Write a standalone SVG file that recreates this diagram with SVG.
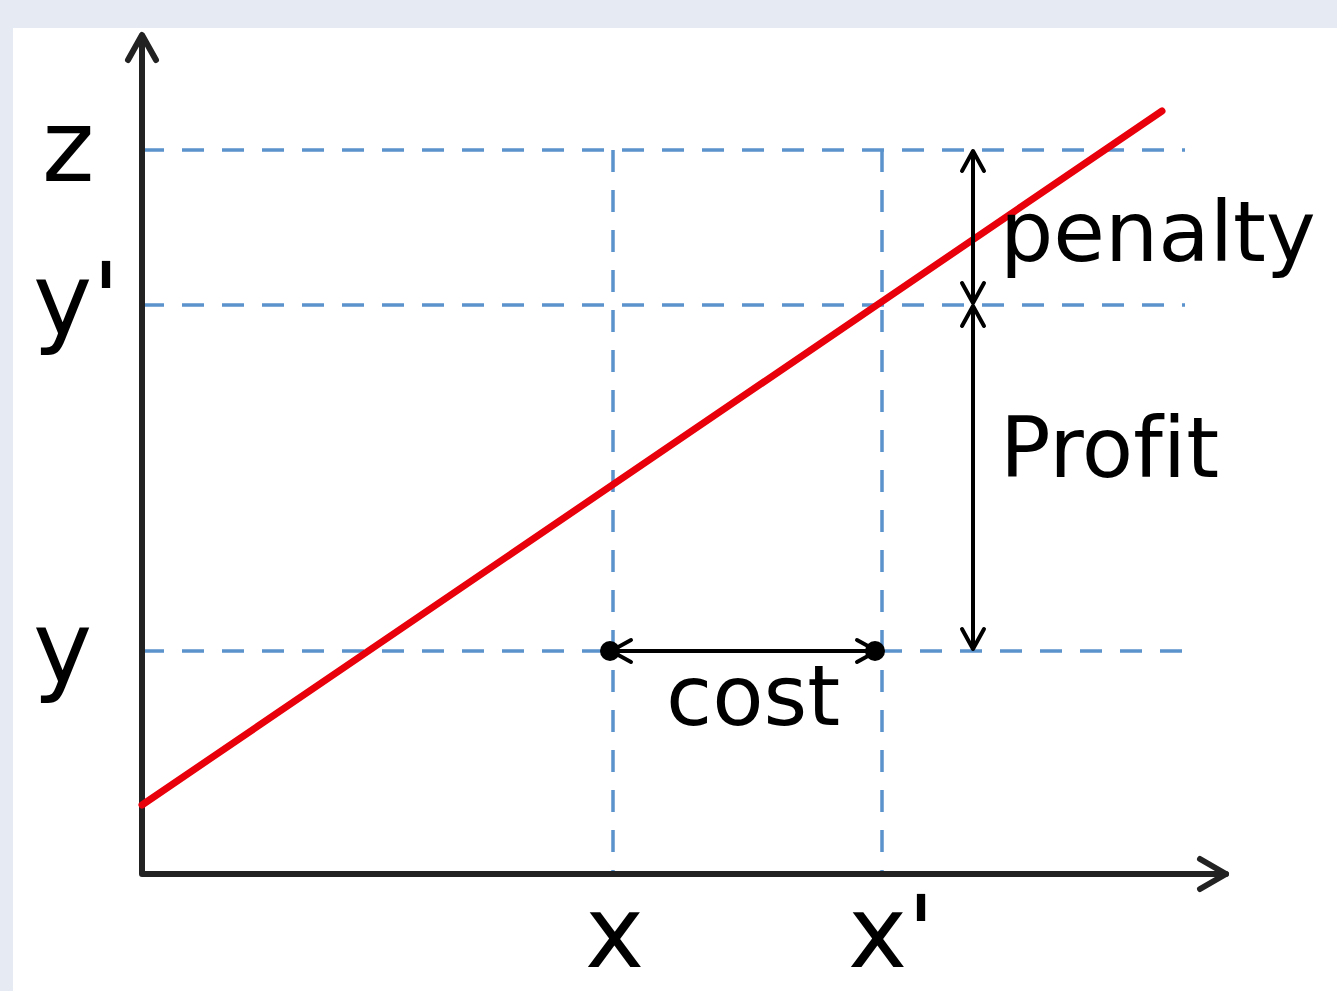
<svg xmlns="http://www.w3.org/2000/svg" width="1337" height="991" viewBox="0 0 1337 991">
<style>
.dash{stroke:#5b93cc;stroke-width:3.5;stroke-dasharray:22 18;fill:none}
.axis{stroke:#222;stroke-width:6;fill:none;stroke-linecap:round;stroke-linejoin:round}
.dim{stroke:#000;stroke-width:4;fill:none}
.head{stroke:#000;stroke-width:4;fill:none;stroke-linecap:round;stroke-linejoin:round}
.lbl{font-family:"DejaVu Sans",sans-serif;fill:#000;font-variant-ligatures:none;font-feature-settings:"liga" 0}
.big{font-size:100px}
.mid{font-size:84px}
</style>
<rect x="0" y="0" width="1337" height="991" fill="#e6ebf3"/>
<rect x="13" y="28" width="1324" height="963" fill="#fff"/>
<g id="guides">
<line class="dash" x1="142" y1="150" x2="1185" y2="150"/>
<line class="dash" x1="142" y1="305" x2="1185" y2="305"/>
<line class="dash" x1="142" y1="651" x2="612" y2="651"/>
<line class="dash" x1="880" y1="651" x2="1185" y2="651"/>
<line class="dash" x1="613" y1="150" x2="613" y2="875"/>
<line class="dash" x1="882" y1="150" x2="882" y2="875"/>
</g>
<g id="axes">
<polyline class="axis" points="142,36 142,874 1226,874"/>
<polyline class="axis" points="128,60 142,35 156,60"/>
<polyline class="axis" points="1200,859 1226,874 1200,889"/>
</g>
<g id="line">
<line x1="142" y1="805" x2="1162" y2="111" stroke="#e8000b" stroke-width="7" stroke-linecap="round"/>
</g>
<g id="connectors">
<line class="dim" x1="973" y1="152" x2="973" y2="302"/>
<polyline class="head" points="962,171 973,151 984,171"/>
<polyline class="head" points="962,283 973,303 984,283"/>
<line class="dim" x1="973" y1="307" x2="973" y2="648"/>
<polyline class="head" points="962,326 973,306 984,326"/>
<polyline class="head" points="962,629 973,649 984,629"/>
<line class="dim" x1="612" y1="651" x2="876" y2="651"/>
<polyline class="head" points="631,640 611,651 631,662"/>
<polyline class="head" points="857,640 877,651 857,662"/>
<circle cx="610" cy="651" r="10" fill="#000"/>
<circle cx="875" cy="651" r="10" fill="#000"/>
</g>
<g id="labels">
<text class="lbl big" x="42" y="181">z</text>
<text class="lbl big" x="33" y="334">y'</text>
<text class="lbl big" x="33" y="682">y</text>
<text class="lbl big" x="585" y="967">x</text>
<text class="lbl big" x="848" y="967">x'</text>
<text class="lbl mid" x="1000" y="261">penalty</text>
<text class="lbl mid" x="1000" y="477">Profit</text>
<text class="lbl mid" x="666" y="725">cost</text>
</g>
</svg>
